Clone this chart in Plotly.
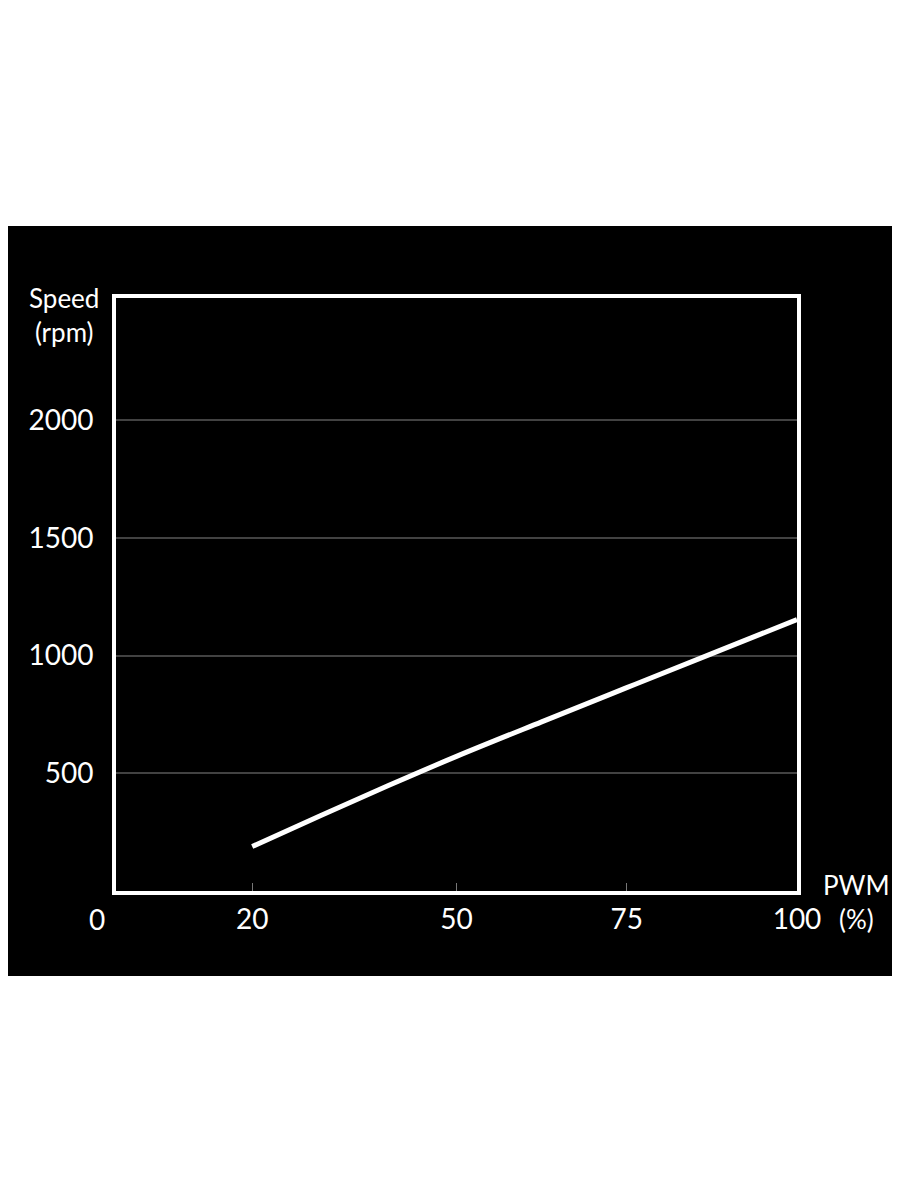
import plotly.graph_objects as go

# --- Data ---
PWM = [20, 30, 40, 50, 62.5, 75, 87.5, 100]
SPEED = [189, 320, 448, 572, 719, 864, 1009, 1153]

X_TICKS = [20, 50, 75, 100]
Y_TICKS = [500, 1000, 1500, 2000]

FONT = "Lato, 'Open Sans', sans-serif"
GRID = "#424242"

fig = go.Figure()
fig.add_trace(go.Scatter(x=PWM, y=SPEED, mode="lines",
                         line=dict(color="white", width=5, shape="spline"),
                         hoverinfo="skip"))

# page has an 8px body margin, so the figure is shifted 8px right/down
fig.update_layout(
    width=900, height=1192,
    paper_bgcolor="white", plot_bgcolor="black",
    margin=dict(l=108, r=111, t=290, b=309),
    showlegend=False,
    font=dict(family=FONT, color="white", size=28),
    xaxis=dict(range=[0, 100], tickvals=X_TICKS, ticktext=[str(v) for v in X_TICKS],
               showgrid=False, zeroline=False, ticks="inside", ticklen=8,
               tickcolor="#777", tickwidth=1, showline=True, linecolor="white",
               linewidth=4, mirror=True, ticklabelstandoff=0,
               tickfont=dict(family=FONT, size=28, color="white")),
    yaxis=dict(range=[0, 2520], tickvals=Y_TICKS, ticktext=[str(v) for v in Y_TICKS],
               showgrid=True, gridcolor=GRID, gridwidth=2, zeroline=False,
               ticks="", showline=True, linecolor="white", linewidth=4, mirror=True,
               ticklabelstandoff=13,
               tickfont=dict(family=FONT, size=28, color="white")),
)

# black band behind the chart
fig.add_shape(type="rect", xref="paper", yref="paper", x0=-0.2, x1=1.2,
              y0=-0.1433, y1=1.1214, fillcolor="black", line_width=0, layer="below")

# corner "0" and axis titles
fig.add_annotation(x=-0.028, y=0, xref="paper", yref="paper", text="0", showarrow=False,
                   xanchor="center", yanchor="middle", yshift=-28,
                   font=dict(family=FONT, size=28, color="white"))
fig.add_annotation(x=-0.077, y=1.0, xref="paper", yref="paper", text="Speed<br>(rpm)",
                   showarrow=False, xanchor="center", yanchor="middle", yshift=-17,
                   font=dict(family=FONT, size=26, color="white"))
fig.add_annotation(x=1.087, y=0, xref="paper", yref="paper", text="PWM<br>(%)",
                   showarrow=False, xanchor="center", yanchor="middle", yshift=-11,
                   font=dict(family=FONT, size=26, color="white"))

fig.write_html("out.html")
